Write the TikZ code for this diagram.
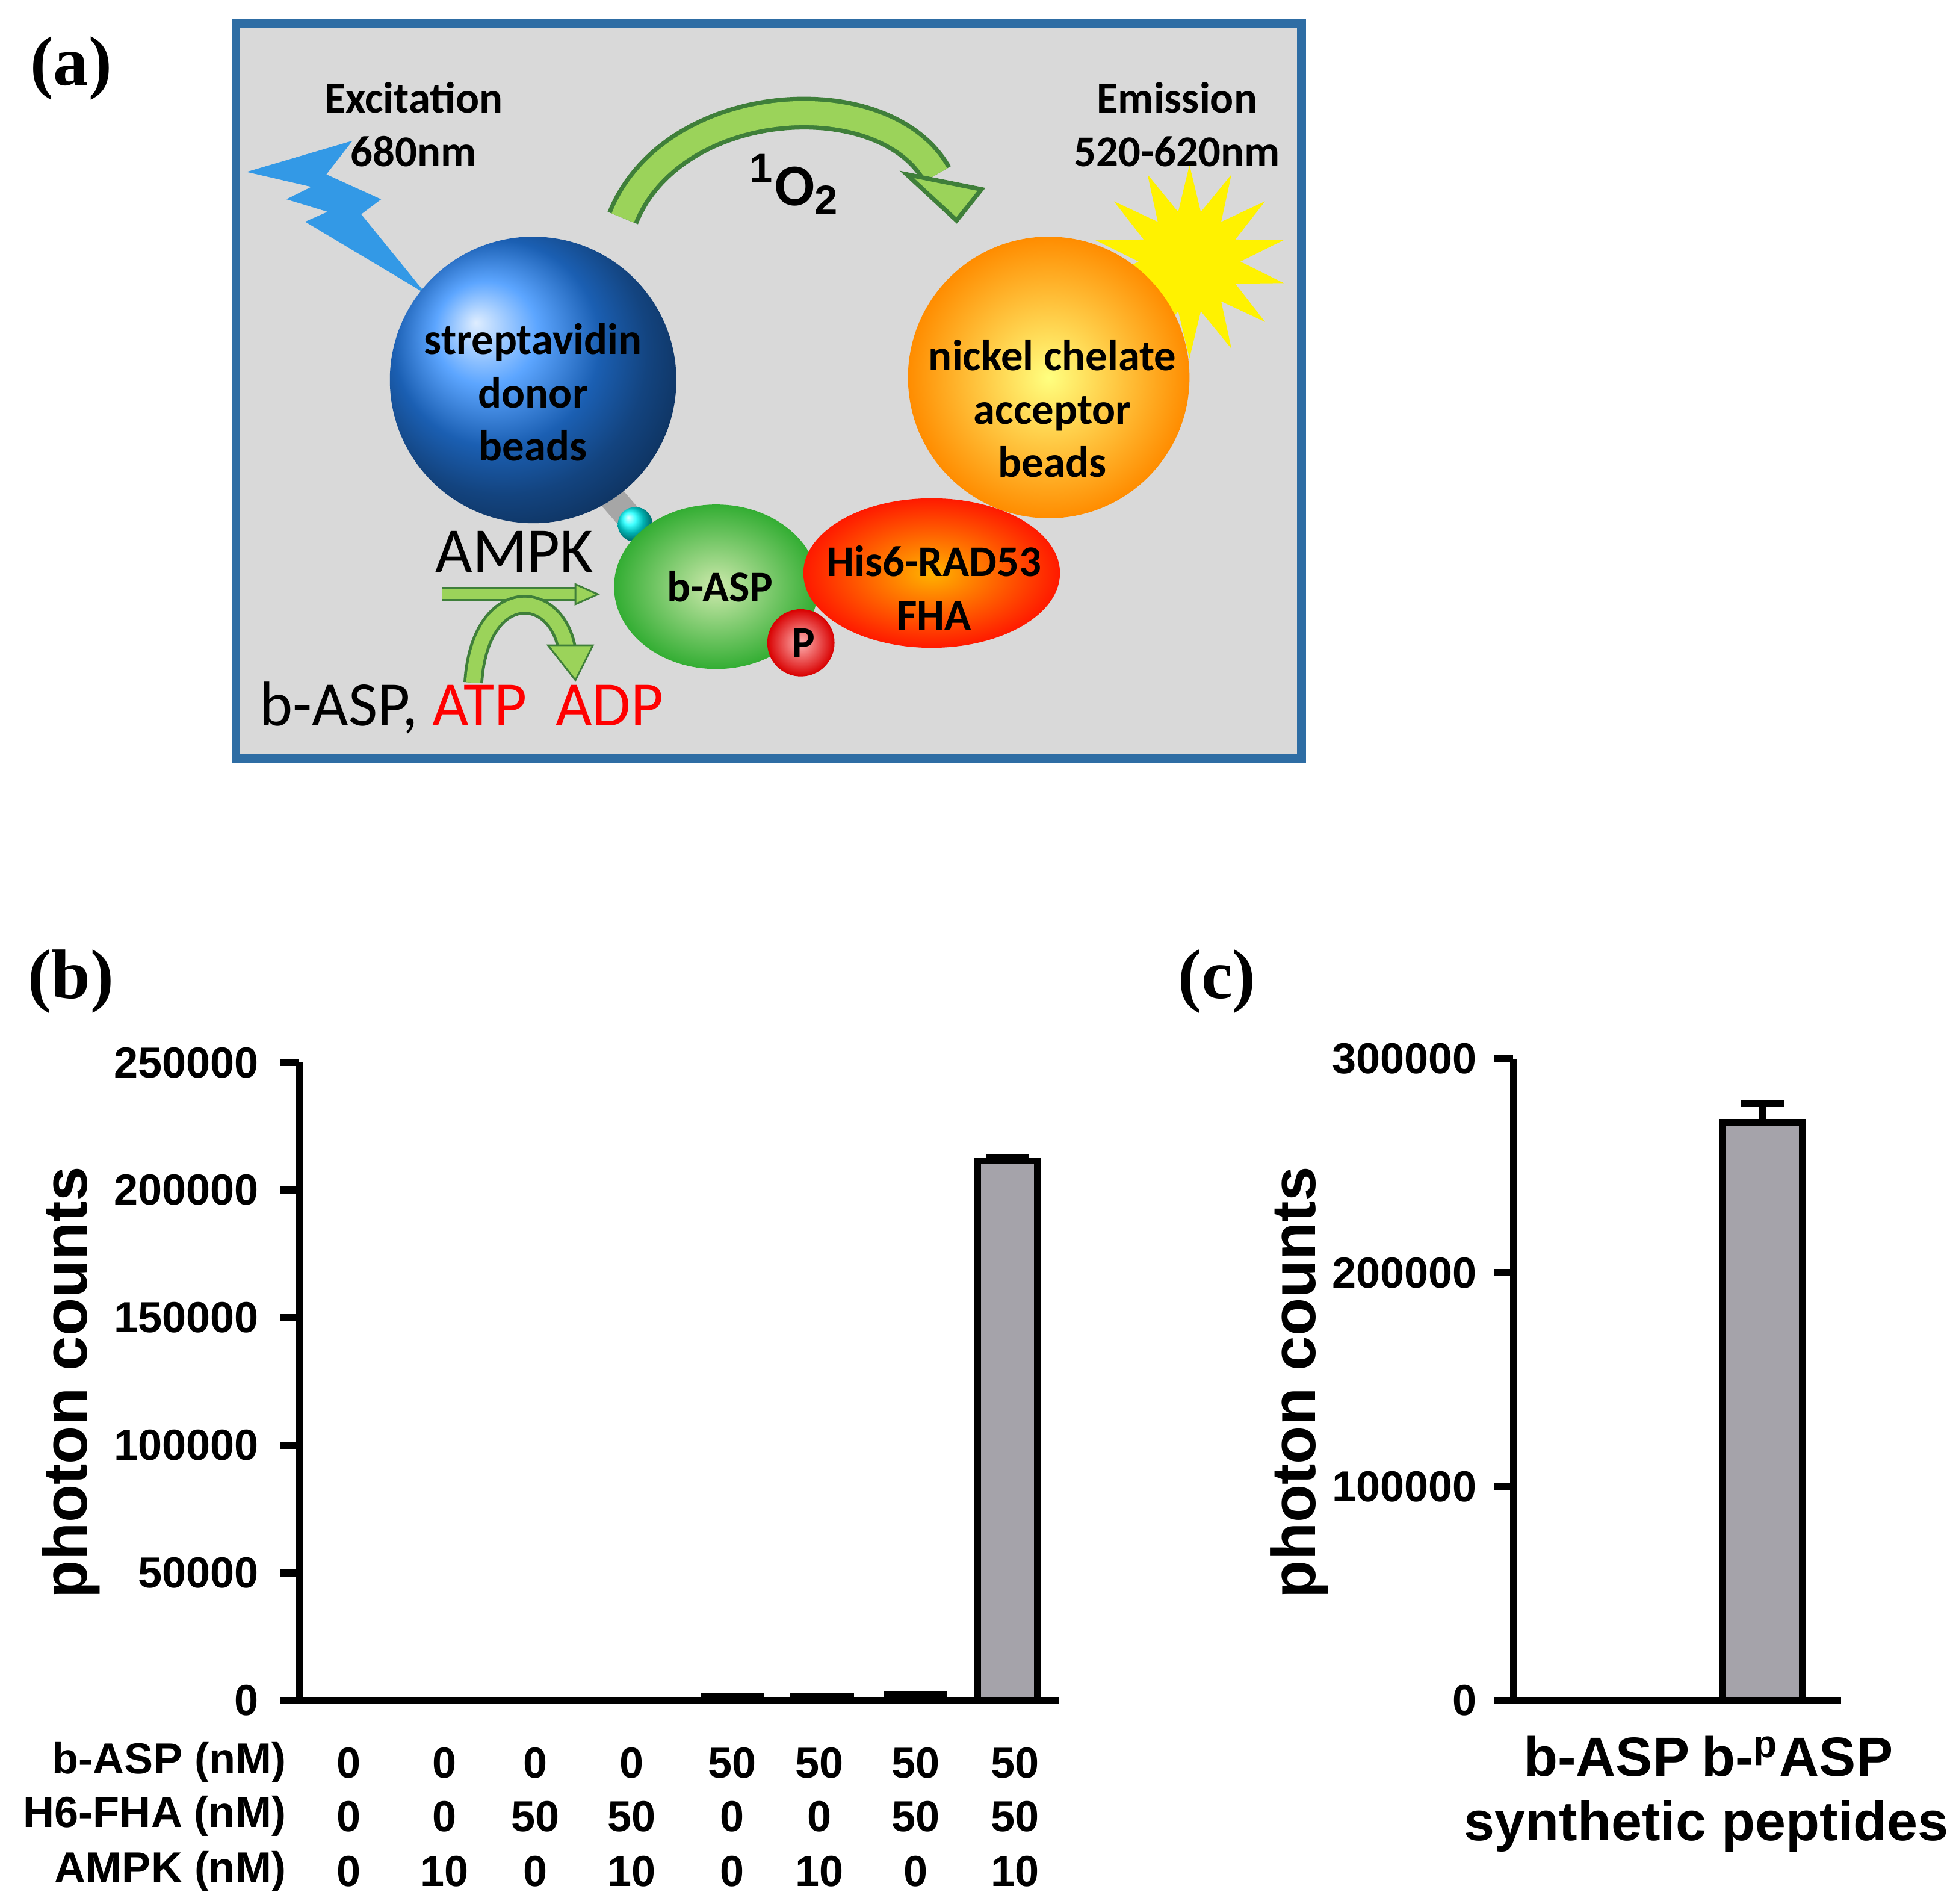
\documentclass[tikz,border=0pt]{standalone}
\usepackage{fontspec}
\setmainfont{Liberation Sans}
\newfontfamily\carl{Carlito}
\newfontfamily\tms{Liberation Serif}
\usetikzlibrary{shapes.geometric,arrows.meta}
\definecolor{boxfill}{HTML}{D9D9D9}
\definecolor{boxline}{HTML}{2E6DA4}
\definecolor{barg}{HTML}{A5A3AA}
\definecolor{dgreen}{HTML}{3F7F3A}
\definecolor{lgreen}{HTML}{9BD35A}
\definecolor{bolt}{HTML}{3399E6}
\tikzset{
 lab/.style={font=\tms\bfseries\fontsize{16}{18}\selectfont},
 tick/.style={font=\bfseries\fontsize{9.9}{12}\selectfont},
 ytitle/.style={font=\bfseries\fontsize{14.2}{16}\selectfont,rotate=90},
 atext/.style={font=\carl\bfseries\fontsize{10}{12.2}\selectfont,align=center},
 ax/.style={line width=1.6pt},
 bar/.style={fill=barg,draw=black,line width=1.5pt},
 ctext/.style={font=\bfseries\fontsize{12.6}{15}\selectfont}
}
\begin{document}
\begin{tikzpicture}[x=0.01cm,y=-0.01cm]
\useasboundingbox (0,0) rectangle (1568,1528);
% panel a
\node[lab] (la) at (57,55) {(a)};
\node[draw=boxline,line width=2pt,fill=boxfill,minimum width=8.55cm,minimum height=5.9cm,anchor=north west] (box) at (186,15) {};
% bolt
\fill[bolt] (198,138) -- (283,113) -- (262,140) -- (306,160) -- (290,172) -- (342,236) -- (245,178) -- (263,170) -- (230,160) -- (250,150) -- cycle;
% star
\node[star,star points=14,star point ratio=1.9,fill=yellow,minimum size=1.55cm,inner sep=0pt] (st) at (955,210) {};
% stick
\draw[line width=6pt,gray!70] (470,375) -- (510,421);
\shade[ball color=cyan!45!blue!85] (428,305) circle (115);
\node[atext] (don) at (428,315) {streptavidin\\donor\\beads};
\shade[inner color=yellow!50!white,outer color=orange!90!yellow] (842,303) circle (113);
\node[atext] (acc) at (845,328) {nickel chelate\\acceptor\\beads};
\shade[ball color=cyan] (510,421) circle (14);
\shade[inner color=lgreen!50!white,outer color=green!60!black!80] (575,471) ellipse (82 and 66);
\node[atext] (basp) at (578,471) {b-ASP};
\shade[inner color=orange!60!yellow,outer color=red!80!orange] (748,460) ellipse (103 and 60);
\node[atext] (his) at (750,472) {His6-RAD53\\FHA};
\shade[inner color=red!30!white,outer color=red!85!black] (643,516) circle (27);
\node[atext] (p) at (645,516) {P};
% big curved arrow
\draw[line width=7.5pt,dgreen] (500,175) .. controls (540,75) and (710,65) .. (752,140);
\draw[line width=5.5pt,lgreen] (500,175) .. controls (540,75) and (710,65) .. (752,140);
\filldraw[fill=lgreen,draw=dgreen,line width=1pt] (728,140) -- (788,152) -- (768,177) -- cycle;
\node[font=\carl\bfseries\fontsize{13.5}{15}\selectfont] (o2) at (638,148) {$^{\mathbf 1}$O$_{\mathbf 2}$};
\node[atext] (exc) at (332,100) {Excitation\\680nm};
\node[atext] (emi) at (945,100) {Emission\\520-620nm};
\node[font=\carl\fontsize{14.6}{16}\selectfont] (ampk) at (413,443) {AMPK};
\coordinate (s1) at (355,477);
\draw[dgreen,line width=3.2pt] (s1) -- (466,477);
\draw[lgreen,line width=2.2pt] (s1) -- (466,477);
\filldraw[fill=lgreen,draw=dgreen] (462,469) -- (480,477) -- (462,485) -- cycle;
\draw[line width=4.5pt,dgreen] (380,548) .. controls (385,470) and (445,470) .. (455,520);
\draw[line width=3.2pt,lgreen] (380,548) .. controls (385,470) and (445,470) .. (455,520);
\filldraw[fill=lgreen,draw=dgreen] (440,518) -- (476,518) -- (462,546) -- cycle;
\node[font=\carl\fontsize{14.4}{16}\selectfont,anchor=west] (bl) at (196,568) {b-ASP, \textcolor{red}{ATP}\ \ \textcolor{red}{ADP}};
% panel b
\node[lab] (lb) at (57,788) {(b)};
\draw[ax] (240,853) -- (240,1365) -- (850,1365);
\foreach \v/\t in {0/0,1/50000,2/100000,3/150000,4/200000,5/250000}{
 \draw[ax] (225,{1365-\v*102.4}) -- (240,{1365-\v*102.4});
 \node[tick,anchor=east] at (220,{1365-\v*102.4}) {\t};}
\node[ytitle] (yb) at (57,1110) {photon counts};
\draw[bar] (785,1365) rectangle (833,932);
\draw[line width=1.5pt] (809,932) -- (809,929) (792,929) -- (826,929);
\draw[bar] (565,1365) rectangle (611,1362);
\draw[bar] (637,1365) rectangle (683,1362);
\draw[bar] (712,1365) rectangle (758,1360);
\node[tick,anchor=east] at (242,1415) {b-ASP (nM)};
\node[tick,anchor=east] at (242,1458) {H6-FHA (nM)};
\node[tick,anchor=east] at (242,1502) {AMPK (nM)};
\foreach \x/\a/\b/\c in {280/0/0/0,357/0/0/10,430/0/50/0,507/0/50/10,588/50/0/0,658/50/0/10,735/50/50/0,815/50/50/10}{
 \node[tick] at (\x,1415) {\a};
 \node[tick] at (\x,1458) {\b};
 \node[tick] at (\x,1502) {\c};}
% panel c
\node[lab] (lc) at (977,788) {(c)};
\draw[ax] (1215,850) -- (1215,1365) -- (1478,1365);
\foreach \v/\t in {0/0,1/100000,2/200000,3/300000}{
 \draw[ax] (1200,{1365-\v*171.7}) -- (1215,{1365-\v*171.7});
 \node[tick,anchor=east] at (1198,{1365-\v*171.7}) {\t};}
\node[ytitle] (yc) at (1043,1110) {photon counts};
\draw[bar] (1383,1365) rectangle (1447,901);
\draw[line width=1.5pt] (1415,901) -- (1415,886) (1398,886) -- (1432,886);
\node[ctext] (c1) at (1290,1410) {b-ASP};
\node[ctext] (c2) at (1443,1410) {b-$^{\mathbf p}$ASP};
\node[ctext] (c3) at (1370,1466) {synthetic peptides};
\end{tikzpicture}
\end{document}
